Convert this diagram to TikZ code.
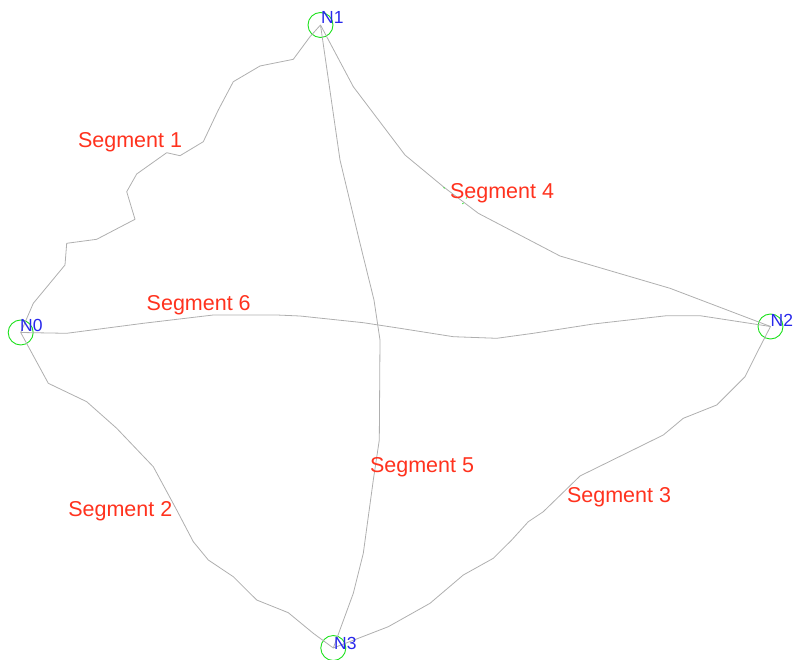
\documentclass[tikz,border=0pt]{standalone}
\usepackage{fontspec}
\setmainfont{Liberation Sans}
\definecolor{segline}{RGB}{175,175,175}
\definecolor{ringgreen}{RGB}{30,225,30}
\definecolor{nodeblue}{RGB}{40,40,235}
\definecolor{labred}{RGB}{255,50,30}
\begin{document}
\begin{tikzpicture}[x=1pt,y=-1pt,
  ring/.style={circle,draw=ringgreen,line width=0.9pt,minimum size=25pt,inner sep=0pt},
  nlabel/.style={anchor=base west,inner sep=0pt,text=nodeblue,font=\fontsize{17.5}{20}\selectfont},
  slabel/.style={anchor=base,inner sep=0pt,text=labred,font=\fontsize{21.5}{24}\selectfont},
  seg/.style={draw=segline,line width=0.8pt,line join=round},
  tick/.style={draw=ringgreen,line width=0.8pt}]
\useasboundingbox (0,0) rectangle (796,660);
% nodes
\node[ring] (n0) at (20.7,332.5) {};
\node[ring] (n1) at (320.5,25) {};
\node[ring] (n2) at (770.5,326.5) {};
\node[ring] (n3) at (333.3,648) {};
% segments
\draw[seg] (n0.center) -- (33.3,303.3) -- (65,265) -- (66.7,243.3) -- (96.7,239.3) -- (135,219.3) -- (126.7,191.7) -- (136.7,174) -- (166.7,152.7) -- (180,155.7) -- (203.3,141.7) -- (218.3,110) -- (233.3,81.7) -- (260,66) -- (293.3,59.3) -- (310,36.7) -- (n1.center);
\draw[seg] (n0.center) -- (48.3,383.3) -- (86.7,401.7) -- (116.7,428.3) -- (153.3,466.7) -- (176.7,510) -- (193.3,541.7) -- (208.3,560) -- (233.3,576.7) -- (256.7,600) -- (288.3,612.7) -- (313.3,633.3) -- (n3.center);
\draw[seg] (n3.center) -- (388.3,626.7) -- (430,603.3) -- (463.3,575) -- (493.3,558.3) -- (511.7,540) -- (528.3,521.7) -- (543.3,511.7) -- (580,476) -- (663.3,435) -- (683.3,418.3) -- (716.7,405) -- (745,376.7) -- (756.7,353.3) -- (n2.center);
\draw[seg] (n1.center) -- (353.3,86.7) -- (405,155) -- (443.3,186.7) -- (478.3,213.3) -- (560,256) -- (670,288.3) -- (n2.center);
\draw[seg] (n1.center) -- (340,160) -- (360,243.3) -- (374,300) -- (380,340) -- (379.3,440) -- (373.3,480) -- (363.3,553.3) -- (353.3,593.3) -- (n3.center);
\draw[seg] (n0.center) -- (66.7,333.3) -- (143.3,323.3) -- (213.3,315) -- (276.7,315) -- (300,316) -- (363.3,322.7) -- (400,328.3) -- (453.3,336.7) -- (496.7,338.3) -- (533.3,333.3) -- (593.3,324) -- (666.7,315.7) -- (700,315.7) -- (n2.center);
% small green ticks on segment 4
\coordinate (t1) at (443.5,187.5);
\coordinate (t2) at (462.5,204);
\coordinate (t3) at (466,198.5);
\draw[tick] (t1) -- ++(1.2,0.8);
\draw[tick] (t2) -- ++(1,-1.2);
\draw[tick] (t3) -- ++(0.8,-1);
% node labels
\node[nlabel] (l0) at (20,331.7) {N0};
\node[nlabel] (l1) at (321,23.3) {N1};
\node[nlabel] (l2) at (770.5,326.7) {N2};
\node[nlabel] (l3) at (334,649.3) {N3};
% segment labels
\node[slabel] (s1) at (130,147.3) {Segment 1};
\node[slabel] (s2) at (120.3,516.7) {Segment 2};
\node[slabel] (s3) at (619,502.7) {Segment 3};
\node[slabel] (s4) at (502,198.3) {Segment 4};
\node[slabel] (s5) at (422,472) {Segment 5};
\node[slabel] (s6) at (198.7,310.7) {Segment 6};
\end{tikzpicture}
\end{document}
